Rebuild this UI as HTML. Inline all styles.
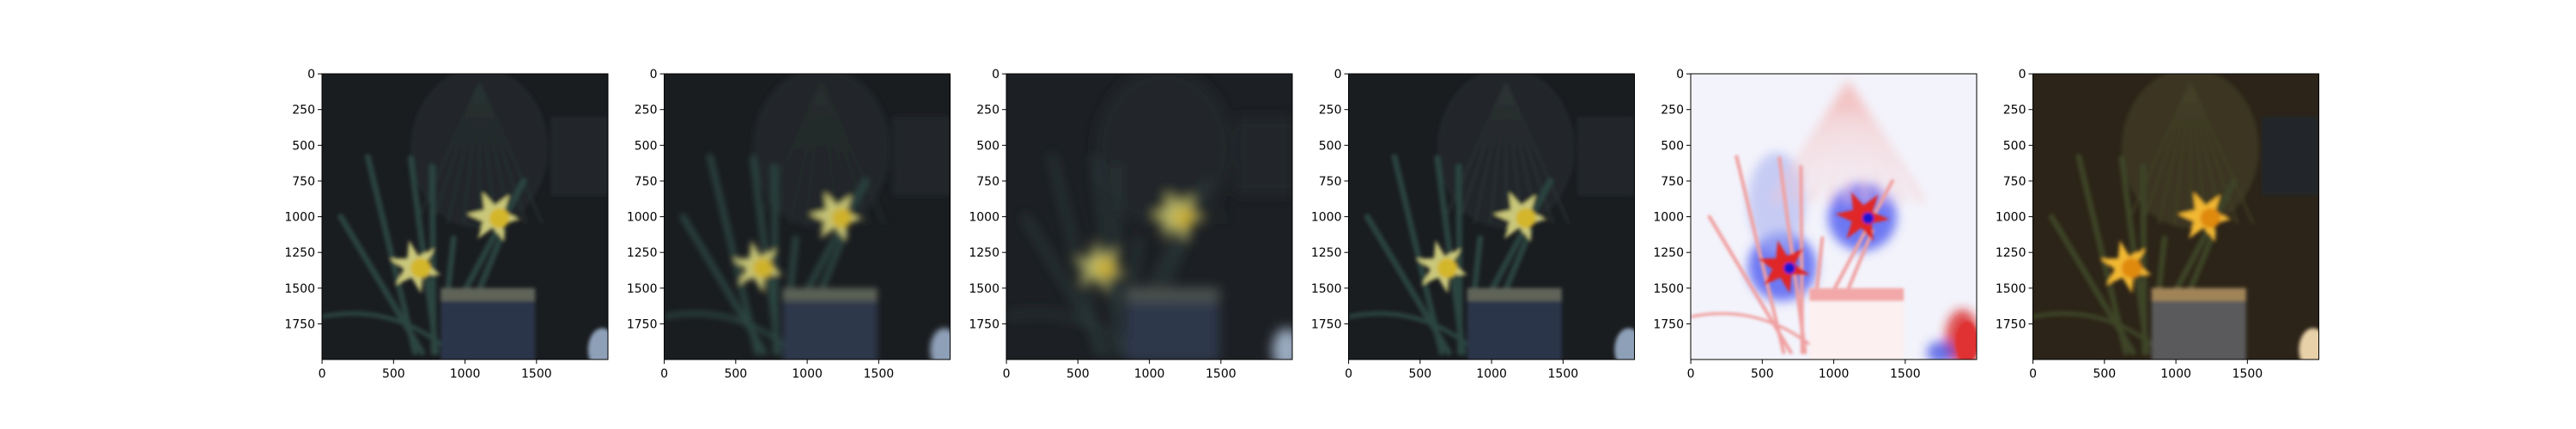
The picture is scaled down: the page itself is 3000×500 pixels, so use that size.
<!DOCTYPE html>
<html><head><meta charset="utf-8"><style>
body{margin:0;background:#fff;}
svg{display:block;font-family:"DejaVu Sans","Liberation Sans",sans-serif;}
</style></head><body>
<svg id="fig" width="3000" height="500" viewBox="0 0 3000 500" xmlns="http://www.w3.org/2000/svg">
<defs>
<filter id="b1" x="-20%" y="-20%" width="140%" height="140%"><feGaussianBlur stdDeviation="2"/></filter>
<filter id="b2" x="-20%" y="-20%" width="140%" height="140%"><feGaussianBlur stdDeviation="3.5"/></filter>
<filter id="b3" x="-20%" y="-20%" width="140%" height="140%"><feGaussianBlur stdDeviation="7"/></filter>
<filter id="b4" x="-20%" y="-20%" width="140%" height="140%"><feGaussianBlur stdDeviation="1.5"/></filter>
<filter id="b5" x="-50%" y="-50%" width="200%" height="200%"><feGaussianBlur stdDeviation="6"/></filter>
</defs>
</svg>
<script>
const xTicks=[0,500,1000,1500];
const yTicks=[0,250,500,750,1000,1250,1500,1750];
const panelNames=['original-image','blurred-image-small','blurred-image-large','sharpened-image','difference-map','enhanced-image'];
const panelLeft=[375,773.5,1172,1570.5,1969,2367.5];
const TOP=86,SIZE=333,N=2000;
const NS='http://www.w3.org/2000/svg';
const fig=document.getElementById('fig');
function mk(t,a,p){const e=document.createElementNS(NS,t);for(const k in a)e.setAttribute(k,a[k]);(p||fig).appendChild(e);return e;}
function star(cx,cy,r1,r2,rot){let pts=[];for(let i=0;i<12;i++){const r=i%2?r2:r1;const a=rot+i*Math.PI/6;pts.push((cx+r*Math.cos(a)).toFixed(1)+','+(cy+r*Math.sin(a)).toFixed(1));}return pts.join(' ');}
const palettes=[
 {bg:'#1a1d20',cac:'#22282a',rib:'#283030',leaf:'#2c443f',pet:'#c9c77a',cup:'#d4b62a',box:'#2c364a',band:'#5e6458',rock:'#8ea0b8',blur:'b1'},
 {bg:'#1a1d20',cac:'#22282a',rib:'#262d2d',leaf:'#2c443f',pet:'#c4c274',cup:'#cfb12a',box:'#2d374b',band:'#5a6055',rock:'#8ea0b8',blur:'b2'},
 {bg:'#1c1f23',cac:'#23272a',rib:'#23272a',leaf:'#2a3b3a',pet:'#bebd6e',cup:'#c8ac30',box:'#2e384c',band:'#4e5450',rock:'#9aaac0',blur:'b3'},
 {bg:'#1a1d20',cac:'#22282a',rib:'#2a3232',leaf:'#2c443f',pet:'#c9c77a',cup:'#d4b62a',box:'#2c364a',band:'#5e6458',rock:'#8ea0b8',blur:'b1'},
 {bg:'#f3f3fb',cac:'#f3f3fb',rib:'#f6d4d4',leaf:'#f0a0a0',pet:'#e02828',cup:'#1818d0',box:'#fcf0f0',band:'#f2a8a8',rock:'#e03030',blur:'b4',diff:true},
 {bg:'#2c2418',cac:'#3a3522',rib:'#433f28',leaf:'#3c4528',pet:'#f2b832',cup:'#e08a10',box:'#5a5a5c',band:'#a08458',rock:'#e8d0a8',blur:'b1'}
];
panelNames.forEach((nm,i)=>{
 const L=panelLeft[i],P=palettes[i];
 const sx=v=>L+(v+0.5)*SIZE/N, sy=v=>TOP+(v+0.5)*SIZE/N, s=v=>v*SIZE/N;
 const g=mk('g',{});
 
 
 const cp=mk('clipPath',{id:'cp'+i},g);
 mk('rect',{x:L,y:TOP,width:SIZE,height:SIZE},cp);
 const img=mk('g',{'clip-path':'url(#cp'+i+')'},g);
 
 
 mk('rect',{x:L,y:TOP,width:SIZE,height:SIZE,fill:P.bg},img);
 if(P.diff){
  const h=mk('g',{filter:'url(#b5)'},img);
  mk('ellipse',{cx:sx(640),cy:sy(1350),rx:s(240),ry:s(240),fill:'#4050f0',opacity:0.75},h);
  mk('ellipse',{cx:sx(1200),cy:sy(1000),rx:s(240),ry:s(240),fill:'#4050f0',opacity:0.75},h);
  mk('ellipse',{cx:sx(600),cy:sy(900),rx:s(200),ry:s(350),fill:'#a8b0f0',opacity:0.6},h);
  mk('ellipse',{cx:sx(1900),cy:sy(1850),rx:s(120),ry:s(200),fill:'#d82020',opacity:0.8},h);
  mk('ellipse',{cx:sx(1750),cy:sy(1950),rx:s(100),ry:s(80),fill:'#3040e0',opacity:0.7},h);
  for(let k=-4;k<=4;k++) mk('line',{x1:sx(1100),y1:sy(60),x2:sx(1100+k*130),y2:sy(900),stroke:'#f3c4c4','stroke-width':s(25)},h);
 }
 const sc=mk('g',{filter:'url(#'+P.blur+')'},img);
 if(!P.diff){
  mk('ellipse',{cx:sx(1100),cy:sy(520),rx:s(480),ry:s(560),fill:P.cac},sc);
  for(let k=-4;k<=4;k++) mk('line',{x1:sx(1100),y1:sy(60),x2:sx(1100+k*110),y2:sy(1050),stroke:P.rib,'stroke-width':s(14)},sc);
  mk('rect',{x:sx(1600),y:sy(300),width:s(400),height:s(550),fill:'#24262a'},sc);
  mk('ellipse',{cx:sx(1960),cy:sy(1930),rx:s(100),ry:s(150),fill:P.rock},sc);
 } else {
  mk('ellipse',{cx:sx(1930),cy:sy(1880),rx:s(80),ry:s(150),fill:P.rock},sc);
 }
 const leaves=[[650,1950,320,580],[800,1950,620,590],[780,1950,770,650],[700,1950,130,1000],[900,1700,1410,750],[1000,1750,1270,1100],[850,1800,920,1150]];
 leaves.forEach(l=>mk('line',{x1:sx(l[0]),y1:sy(l[1]),x2:sx(l[2]),y2:sy(l[3]),stroke:P.leaf,'stroke-width':s(P.diff?25:40),'stroke-linecap':'round'},sc));
 mk('path',{d:`M${sx(0)} ${sy(1700)} Q${sx(500)} ${sy(1600)} ${sx(900)} ${sy(1950)}`,stroke:P.leaf,'stroke-width':s(P.diff?20:30),fill:'none'},sc);
 mk('rect',{x:sx(830),y:sy(1500),width:s(660),height:s(520),fill:P.box},sc);
 mk('rect',{x:sx(830),y:sy(1500),width:s(660),height:s(90),fill:P.band},sc);
 [[650,1350,0.3],[1200,1000,0.1]].forEach(f=>{
  mk('polygon',{points:star(sx(f[0]),sy(f[1]),s(190),s(80),f[2]),fill:P.pet},sc);
  mk('circle',{cx:sx(f[0]+40),cy:sy(f[1]+10),r:s(P.diff?40:70),fill:P.cup},sc);
 });
 const fr=mk('rect',{x:L,y:TOP,width:SIZE,height:SIZE,fill:'none',stroke:'#000','stroke-width':1},g);
 
 
 xTicks.forEach(t=>{
  const x=sx(t);
  mk('line',{x1:x,y1:TOP+SIZE,x2:x,y2:TOP+SIZE+5,stroke:'#000','stroke-width':1},g);
  const tx=mk('text',{x:x,y:TOP+SIZE+21,'font-size':14,'text-anchor':'middle'},g);
  tx.textContent=t;
  
  
 });
 yTicks.forEach(t=>{
  const y=sy(t);
  mk('line',{x1:L-5,y1:y,x2:L,y2:y,stroke:'#000','stroke-width':1},g);
  const ty=mk('text',{x:L-8,y:y+5,'font-size':14,'text-anchor':'end'},g);
  ty.textContent=t;
  
  
 });
});
</script>
</body></html>
